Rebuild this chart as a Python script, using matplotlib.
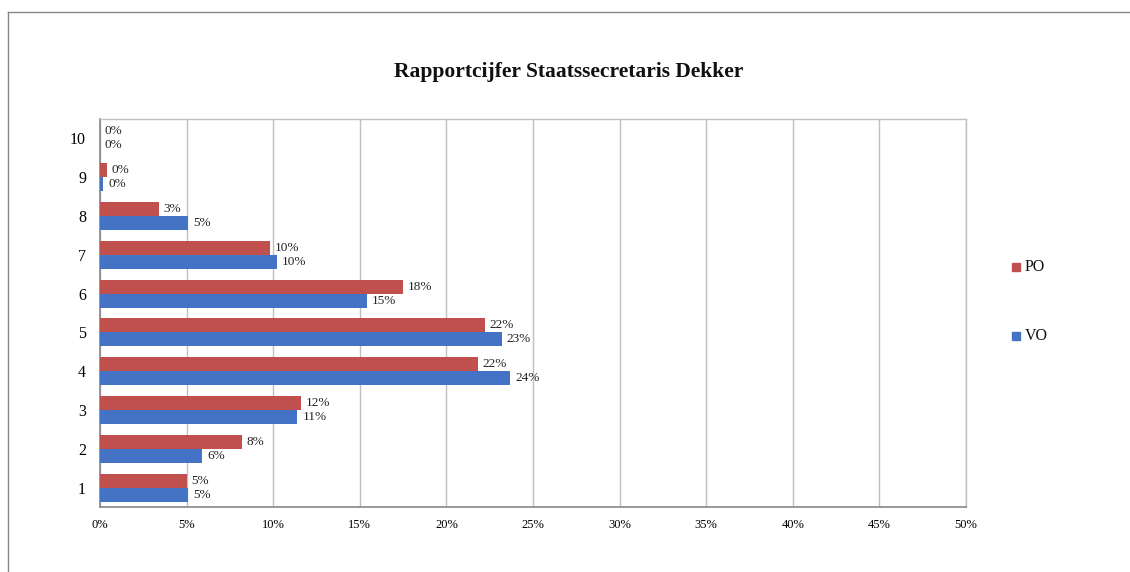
import numpy as np
import matplotlib
matplotlib.use("Agg")
import matplotlib.pyplot as plt
from matplotlib.lines import Line2D

# Rapportcijfer 1..10, share of respondents (%)
grades = [1, 2, 3, 4, 5, 6, 7, 8, 9, 10]
po = [5.0, 8.2, 11.6, 21.8, 22.2, 17.5, 9.8, 3.4, 0.4, 0.0]
vo = [5.1, 5.9, 11.4, 23.7, 23.2, 15.4, 10.2, 5.1, 0.2, 0.0]
xticks = [0, 5, 10, 15, 20, 25, 30, 35, 40, 45, 50]

RED, BLUE = "#C0504D", "#4472C4"
GRID, SPINE = "#BFBFBF", "#868686"
plt.rcParams["font.family"] = ["Liberation Serif", "DejaVu Serif"]

fig = plt.figure(figsize=(11.3, 5.72), dpi=100)
# outer chart frame
fig.add_artist(Line2D([8 / 1130, 8 / 1130], [0, 1 - 12 / 572], transform=fig.transFigure,
                      color=SPINE, lw=1))
fig.add_artist(Line2D([8 / 1130, 1], [1 - 12 / 572, 1 - 12 / 572], transform=fig.transFigure,
                      color=SPINE, lw=1))

ax = fig.add_axes([100 / 1130, 65 / 572, 866 / 1130, 388 / 572])
y = np.array(grades, dtype=float)
h = 0.36
ax.barh(y + h / 2, po, height=h, color=RED, label="PO", zorder=3)
ax.barh(y - h / 2, vo, height=h, color=BLUE, label="VO", zorder=3)

for yi, v in zip(y, po):
    ax.annotate("%d%%" % round(v), (v, yi + h / 2), xytext=(3.5, 0), textcoords="offset points",
                va="center", ha="left", fontsize=9.5, color="#222222")
for yi, v in zip(y, vo):
    ax.annotate("%d%%" % round(v), (v, yi - h / 2), xytext=(3.5, 0), textcoords="offset points",
                va="center", ha="left", fontsize=9.5, color="#222222")

ax.set_xlim(0, 50)
ax.set_ylim(0.5, 10.5)
ax.set_xticks(xticks)
ax.set_xticklabels(["%d%%" % t for t in xticks], fontsize=9)
ax.set_yticks(grades)
ax.set_yticklabels([str(g) for g in grades], fontsize=11.5)
ax.tick_params(axis="x", length=0, pad=9)
ax.tick_params(axis="y", length=0, pad=10)
ax.xaxis.grid(True, color=GRID, lw=1, zorder=0)
for s in ["left", "bottom"]:
    ax.spines[s].set_color(SPINE)
    ax.spines[s].set_linewidth(1.2)
for s in ["top", "right"]:
    ax.spines[s].set_color(GRID)
    ax.spines[s].set_linewidth(1)

fig.text(569 / 1130, 1 - 72 / 572, "Rapportcijfer Staatssecretaris Dekker", ha="center",
         va="center", fontsize=15.5, fontweight="bold", color="#111111")

# legend
for lab, col, ypx in [("PO", RED, 267), ("VO", BLUE, 336)]:
    fig.add_artist(plt.Rectangle((1012 / 1130, 1 - (ypx + 4) / 572), 8 / 1130, 8 / 572,
                                 transform=fig.transFigure, color=col))
    fig.text(1025 / 1130, 1 - ypx / 572, lab, ha="left", va="center", fontsize=11.5,
             color="#111111")

fig.savefig("out.png", dpi=100)
